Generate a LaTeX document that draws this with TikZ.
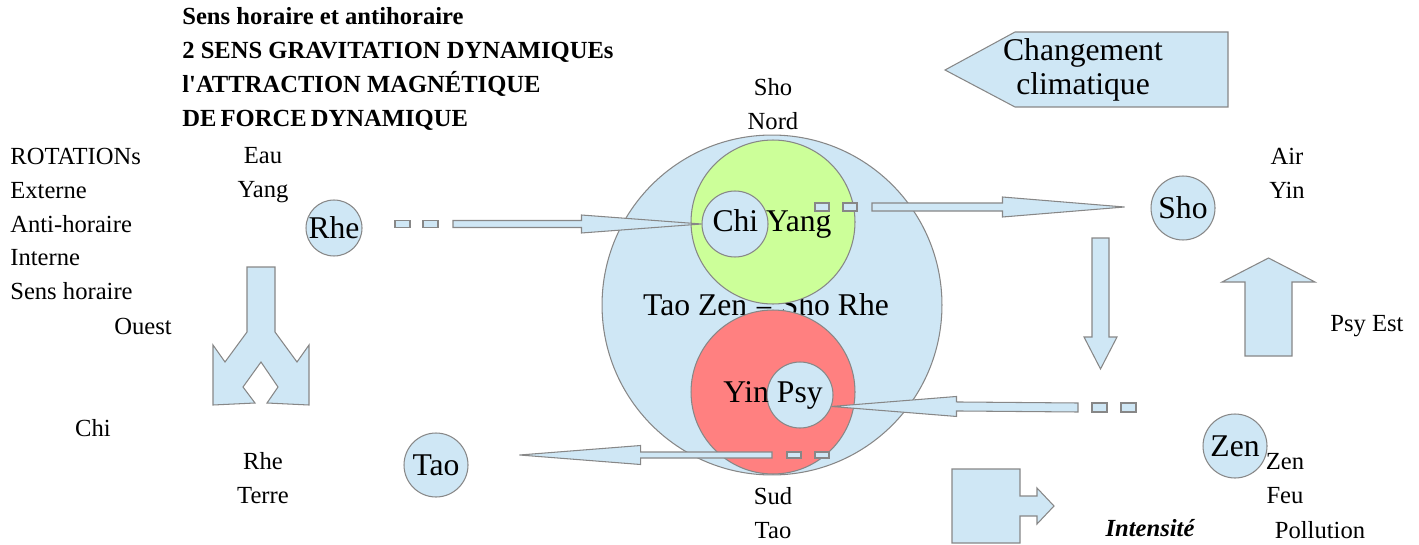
\documentclass[tikz,border=0pt]{standalone}
\usepackage{fontspec}
\setmainfont{Liberation Serif}
\usepackage{tikz}
\usetikzlibrary{positioning, calc}
\definecolor{skyFill}{RGB}{207, 231, 245}
\definecolor{lineGrey}{RGB}{135, 135, 135}
\definecolor{yangGreen}{RGB}{204, 255, 153}
\definecolor{yinRed}{RGB}{255, 128, 128}

\tikzset{
  txt/.style={font=\fontsize{14}{19.3}\selectfont, inner sep=0pt},
  bigtxt/.style={font=\fontsize{18}{19.8}\selectfont, inner sep=0pt},
  disc/.style={circle, draw=lineGrey, fill=skyFill, line width=0.6pt, inner sep=0pt},
  fatarrow/.style={draw=lineGrey, fill=skyFill, line width=0.6pt}
}

\begin{document}
\begin{tikzpicture}[x=0.02cm, y=-0.02cm]
    \useasboundingbox (0,0) rectangle (1419,544);

    % centre: Tao Zen = Sho Rhe
    \node[disc, minimum size=6.8cm] (tao zen) at (772,305) {};
    \node[bigtxt] (taolabel) at (766,305) {Tao Zen = Sho Rhe};
    \node[disc, fill=yangGreen, minimum size=3.28cm] (yang) at (773,222) {};
    \node[disc, fill=yinRed, minimum size=3.28cm] (yin) at (773,392) {};
    \node[disc, minimum size=1.32cm] (chi) at (735,224) {};
    \node[disc, minimum size=1.32cm] (psy) at (800,395) {};
    \node[bigtxt] (chiyang) at (772,224) {Chi Yang};
    \node[bigtxt] (yinpsy) at (773,395) {Yin Psy};

    % petits cercles
    \node[disc, bigtxt, minimum size=1.12cm] (rhe) at (334,228) {Rhe};
    \node[disc, bigtxt, minimum size=1.28cm] (sho) at (1183,208) {Sho};
    \node[disc, bigtxt, minimum size=1.28cm] (tao) at (436,465) {Tao};
    \node[disc, bigtxt, minimum size=1.28cm] (zen) at (1235,446) {Zen};

    % textes
    \node[txt, anchor=west, align=left, font=\fontsize{14}{19.3}\selectfont\bfseries] (titre) at (182,69)
        {Sens horaire et antihoraire\\2 SENS GRAVITATION DYNAMIQUEs\\l\textquotesingle ATTRACTION MAGNÉTIQUE\\DE\,FORCE\,DYNAMIQUE};
    \node[txt, anchor=west, align=left] (rotations) at (10,224)
        {ROTATIONs\\Externe\\Anti-horaire\\Interne\\Sens horaire};
    \node[txt, align=center] (nord) at (773,104) {Sho\\Nord};
    \node[txt, align=center] (eau) at (263,175) {Eau\\Yang};
    \node[txt] (ouest) at (143,326) {Ouest};
    \node[txt] (chilabel) at (93,428) {Chi};
    \node[txt, align=center] (terre) at (263,478) {Rhe\\Terre};
    \node[txt, align=center] (sud) at (773,513) {Sud\\Tao};
    \node[txt, align=center] (air) at (1287,173) {Air\\Yin};
    \node[txt] (est) at (1367,326) {Psy Est};
    \node[txt, align=center] (feu) at (1285,479) {Zen\\Feu};
    \node[txt] (pollution) at (1320,530) {Pollution};
    \node[txt, font=\fontsize{14}{16}\selectfont\bfseries\itshape] (intensite) at (1150,528) {Intensité};

    % Changement climatique
    \draw[fatarrow] (945,70) -- (1015,32) -- (1228,32) -- (1228,107) -- (1015,107) -- cycle;
    \node[bigtxt, align=center] (climat) at (1083,70) {Changement\\climatique};

    % fleches
    \coordinate (rhetail) at (453,224);
    \draw[fatarrow] ($(rhetail)+(0,-3.5)$) -- ($(chi.west)+(-120,-3.5)$) -- ($(chi.west)+(-120,-9)$) -- (chi.west)
        -- ($(chi.west)+(-120,9)$) -- ($(chi.west)+(-120,3.5)$) -- ($(rhetail)+(0,3.5)$) -- cycle;
    \foreach \d in {-58,-30}
        \draw[fatarrow] ($(rhetail)+(\d,-3.5)$) rectangle ++(15,7);

    \coordinate (yangtail) at (872,207);
    \coordinate (shotip) at ($(sho.west)+(-26,-1)$);
    \draw[fatarrow] ($(yangtail)+(0,-4)$) -- ($(shotip)+(-122,-4)$) -- ($(shotip)+(-122,-10)$) -- (shotip)
        -- ($(shotip)+(-122,10)$) -- ($(shotip)+(-122,4)$) -- ($(yangtail)+(0,4)$) -- cycle;
    \foreach \d in {-57,-29}
        \draw[fatarrow] ($(yangtail)+(\d,-4)$) rectangle ++(14,8);

    \coordinate (psytail) at (1078,407.5);
    \coordinate (psytip) at (psy.-20);
    \draw[fatarrow] ($(psytail)+(0,-4.5)$) -- ($(psytip)+(125,-4.5)$) -- ($(psytip)+(125,-10)$) -- (psytip)
        -- ($(psytip)+(125,10)$) -- ($(psytip)+(125,4.5)$) -- ($(psytail)+(0,4.5)$) -- cycle;
    \foreach \d in {14,43}
        \draw[fatarrow] ($(psytail)+(\d,-4.5)$) rectangle ++(15,9);

    \coordinate (yintail) at (772,455);
    \coordinate (taotip) at ($(tao.east)+(51,-10)$);
    \draw[fatarrow] ($(yintail)+(0,-3)$) -- ($(taotip)+(121,-3)$) -- ($(taotip)+(121,-9.5)$) -- (taotip)
        -- ($(taotip)+(121,9.5)$) -- ($(taotip)+(121,3)$) -- ($(yintail)+(0,3)$) -- cycle;
    \foreach \d in {15,43}
        \draw[fatarrow] ($(yintail)+(\d,-3)$) rectangle ++(14,6);

    % fleche vers le bas, fleche vers le haut
    \draw[fatarrow] (1092,238) -- (1092,337) -- (1084,337) -- (1100.5,369) -- (1117,337) -- (1109,337) -- (1109,238) -- cycle;
    \draw[fatarrow] (1245,356) -- (1245,282) -- (1222,282) -- (1268.5,258) -- (1315,282) -- (1292,282) -- (1292,356) -- cycle;

    % fleche fourchue
    \draw[fatarrow] (247,267) -- (247,332) -- (225,362) -- (213,345) -- (213,405) -- (255,403) -- (243,387) -- (261,362)
        -- (278,387) -- (267,403) -- (309,405) -- (309,345) -- (297,362) -- (275,332) -- (275,267) -- cycle;

    % Intensite
    \draw[fatarrow] (952,469) -- (1020,469) -- (1020,496) -- (1037,496) -- (1037,488) -- (1054,506) -- (1037,524)
        -- (1037,516) -- (1020,516) -- (1020,543) -- (952,543) -- cycle;
\end{tikzpicture}
\end{document}
